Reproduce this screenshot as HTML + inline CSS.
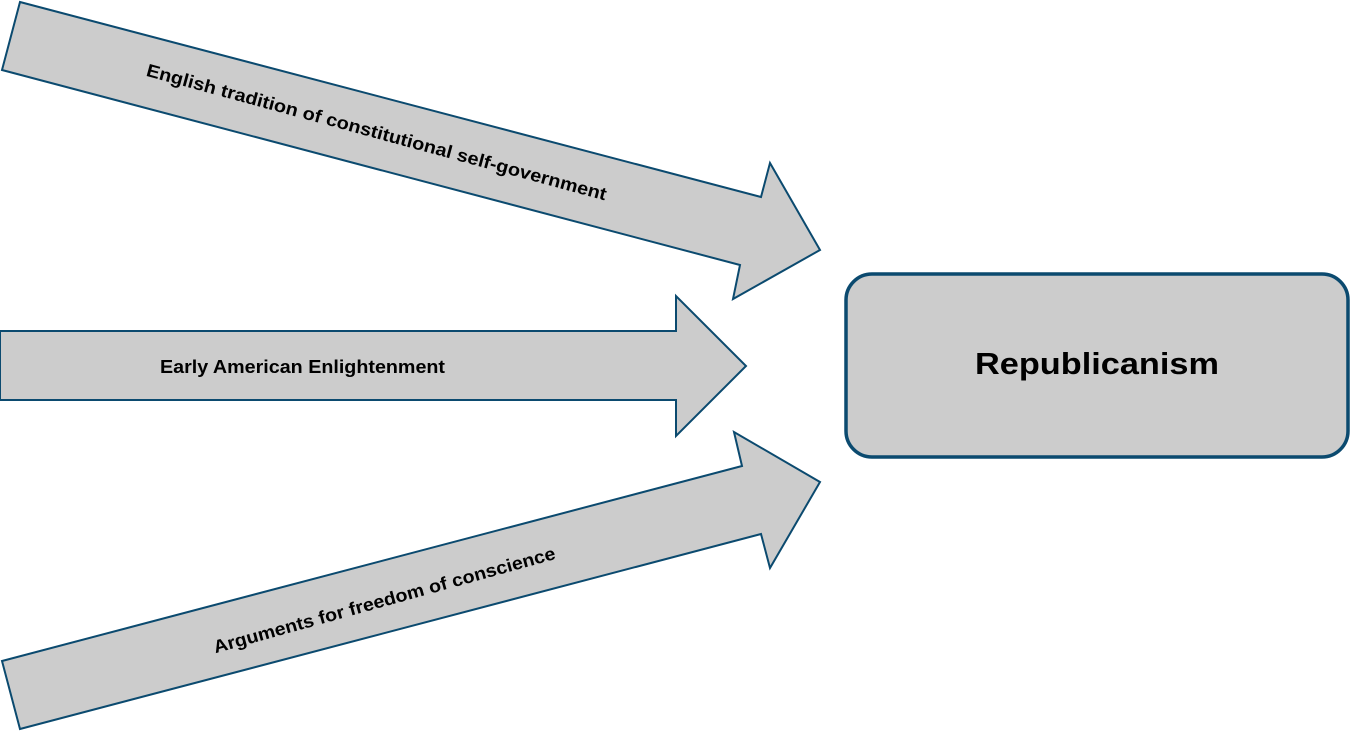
<!DOCTYPE html>
<html><head><meta charset="utf-8"><style>html,body{margin:0;padding:0;background:#fff}</style></head>
<body>
<svg width="1350" height="731" viewBox="0 0 1350 731" xmlns="http://www.w3.org/2000/svg" font-family="'Liberation Sans', sans-serif" font-weight="bold">
<g fill="#cccccc" stroke="#0b4a6f" stroke-width="2" stroke-linejoin="miter">
<polygon points="20,2 761,197 770,163 820,250 733,299 740,265 2,70"/>
<polygon points="0,331 676,331 676,296 746,366 676,436 676,400 0,400"/>
<polygon points="2,661 742,466 734,432 820,482 770,568 761,534 20,729"/>
<rect x="846" y="274" width="502" height="183" rx="26" ry="26" stroke-width="3.5"/>
</g>
<text x="1097" y="374" text-anchor="middle" font-size="31" textLength="244" lengthAdjust="spacingAndGlyphs">Republicanism</text>
<text x="160" y="373" font-size="18" textLength="285" lengthAdjust="spacingAndGlyphs">Early American Enlightenment</text>
<text transform="translate(375,138) rotate(15.2)" text-anchor="middle" font-size="18" textLength="476" lengthAdjust="spacingAndGlyphs">English tradition of constitutional self-government</text>
<text transform="translate(386,606) rotate(-15.5)" text-anchor="middle" font-size="18" textLength="354" lengthAdjust="spacingAndGlyphs">Arguments for freedom of conscience</text>
</svg>
</body></html>
